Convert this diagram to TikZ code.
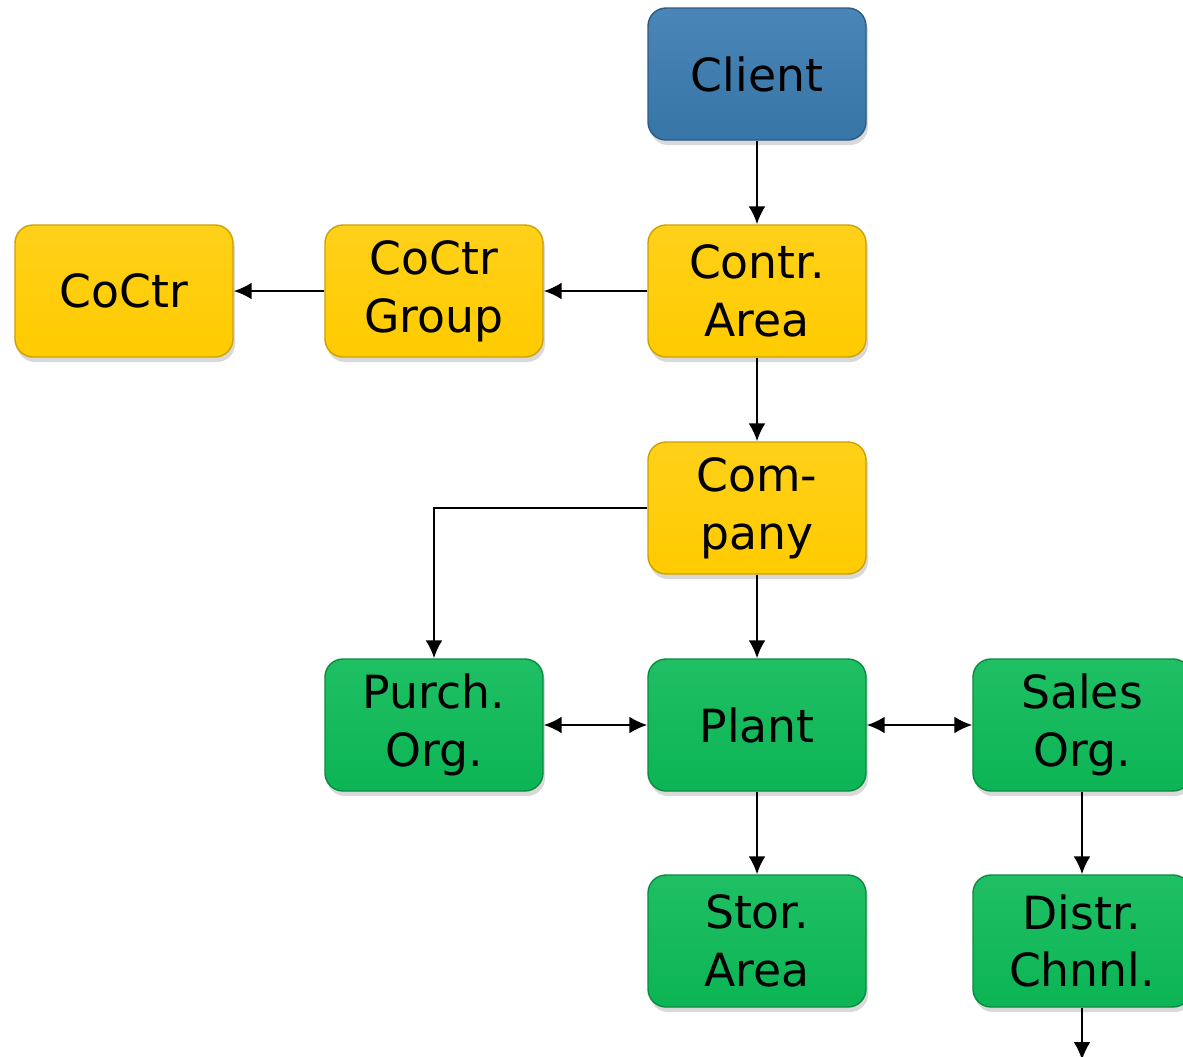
\documentclass[tikz,border=0pt]{standalone}
\usepackage{fontspec}
\setmainfont{DejaVu Sans}
\usetikzlibrary{arrows.meta,shadows}

\definecolor{clientblue}{HTML}{3A7BB0}
\definecolor{orgyellow}{HTML}{FFCB00}
\definecolor{orggreen}{HTML}{0CBA57}

\tikzset{
  unit/.style={rounded corners=0.18cm, minimum width=2.18cm, minimum height=1.32cm,
    align=center, font=\fontsize{13}{16.4}\selectfont, line width=0.4pt,
    drop shadow={opacity=0.3, shadow xshift=0.02cm, shadow yshift=-0.05cm}},
  clientunit/.style={unit, top color=clientblue!92!white, bottom color=clientblue!95!black, draw=clientblue!75!black},
  ctrlunit/.style={unit, top color=orgyellow!90!white, bottom color=orgyellow, draw=orgyellow!80!black},
  logunit/.style={unit, top color=orggreen!92!white, bottom color=orggreen!97!black, draw=orggreen!75!black},
  link/.style={-{Latex[length=0.18cm,width=0.17cm]}, line width=0.7pt},
  twolink/.style={{Latex[length=0.18cm,width=0.17cm]}-{Latex[length=0.18cm,width=0.17cm]}, line width=0.7pt}
}

\begin{document}
\begin{tikzpicture}
    \useasboundingbox (0,0) rectangle (11.83,-10.56);

    % controlling side
    \node[clientunit] (client) at (7.57,-0.74) {Client};
    \node[ctrlunit] (coctr) at (1.24,-2.91) {CoCtr};
    \node[ctrlunit] (coctrgrp) at (4.34,-2.91) {CoCtr\\Group};
    \node[ctrlunit] (contrarea) at (7.57,-2.91) {Contr.\\Area};
    \node[ctrlunit] (company) at (7.57,-5.08) {Com-\\pany};

    % logistics side
    \node[logunit] (purchorg) at (4.34,-7.25) {Purch.\\Org.};
    \node[logunit] (plant) at (7.57,-7.25) {Plant};
    \node[logunit] (salesorg) at (10.82,-7.25) {Sales\\Org.};
    \node[logunit] (storarea) at (7.57,-9.41) {Stor.\\Area};
    \node[logunit] (distrch) at (10.82,-9.41) {Distr.\\Chnnl.};
    \coordinate (below) at (10.82,-10.60);

    \draw[link] (client) -- (contrarea);
    \draw[link] (contrarea) -- (coctrgrp);
    \draw[link] (coctrgrp) -- (coctr);
    \draw[link] (contrarea) -- (company);
    \draw[link] (company.west) -| (purchorg.north);
    \draw[link] (company) -- (plant);
    \draw[twolink] (purchorg) -- (plant);
    \draw[twolink] (plant) -- (salesorg);
    \draw[link] (plant) -- (storarea);
    \draw[link] (salesorg) -- (distrch);
    \draw[link] (distrch) -- (below);
\end{tikzpicture}
\end{document}
